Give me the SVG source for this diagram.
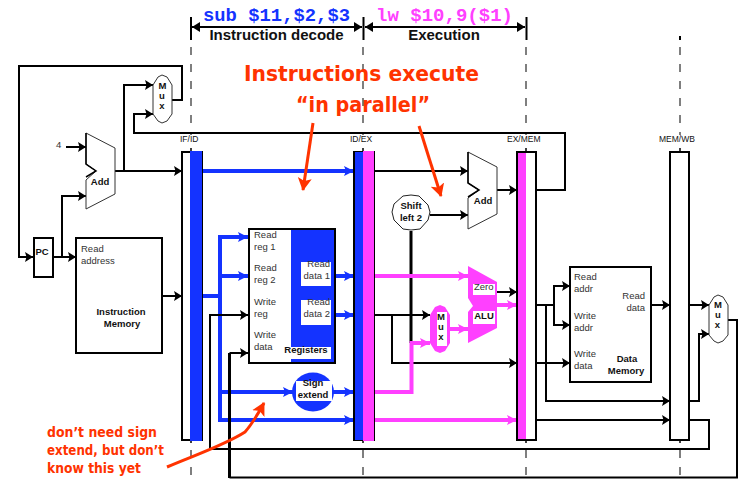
<svg xmlns="http://www.w3.org/2000/svg" width="740" height="482" viewBox="0 0 740 482">
<style>
text{font-family:"Liberation Sans",Arial,sans-serif;fill:#333}
.s{font-size:9.500px}
.m{font-size:9.500px;font-weight:bold;fill:#111;text-anchor:middle}
.h{font-size:15px;font-weight:bold;fill:#111;text-anchor:middle}
.l{font-size:8.500px;fill:#111}
.c{font-family:"Liberation Mono",monospace;font-size:19px;font-weight:bold}
.r{font-family:"DejaVu Sans",sans-serif;font-weight:bold;fill:#ff3300}
.k{fill:none;stroke:#000;stroke-width:2}
.t{fill:none;stroke:#000;stroke-width:3}
.bl{fill:none;stroke:#1433ff;stroke-width:4}
.mg{fill:none;stroke:#ff40ff;stroke-width:4}
.d{fill:none;stroke:#555;stroke-width:1.500;stroke-dasharray:8 9}
.red{fill:none;stroke:#ff3300;stroke-width:3}
.o{fill:#fff;stroke:#333;stroke-width:1}
.box{fill:#fff;stroke:#000;stroke-width:2}
.ka{marker-end:url(#ak)}
.ba{marker-end:url(#ab)}
.ma{marker-end:url(#am)}
</style>
<defs>
<marker id="ak" markerUnits="userSpaceOnUse" markerWidth="9" markerHeight="10" refX="8" refY="5" orient="auto"><path d="M0 0L8 5L0 10L1.500 5Z" fill="#000"/></marker>
<marker id="ab" markerUnits="userSpaceOnUse" markerWidth="11" markerHeight="10" refX="10" refY="5" orient="auto"><path d="M0 0L10 5L0 10L2 5Z" fill="#1433ff"/></marker>
<marker id="am" markerUnits="userSpaceOnUse" markerWidth="11" markerHeight="10" refX="10" refY="5" orient="auto"><path d="M0 0L10 5L0 10L2 5Z" fill="#ff40ff"/></marker>
<marker id="hk" markerUnits="userSpaceOnUse" markerWidth="9" markerHeight="10" refX="8" refY="5" orient="auto-start-reverse"><path d="M0 0L8 5L0 10Z" fill="#000"/></marker>
<marker id="ar" markerUnits="userSpaceOnUse" markerWidth="15" markerHeight="15" refX="12" refY="7" orient="auto"><path d="M0 0L13 7L0 14L3 7Z" fill="#ff3300"/></marker>
</defs>

<g id="guides">
<path class="d" d="M191 47V135M191 450V482M363 47V135M363 450V482M526 47V135M526 450V482M680 47V135M680 450V482"/>
<path d="M191 17V40M363.500 17V40M526.500 17V40M680 36V40" fill="none" stroke="#000" stroke-width="2"/>
<path d="M191 148V152M363 148V152M526 148V152M680 148V152M191 440V443M363 440V443M526 440V443M680 440V443" fill="none" stroke="#000" stroke-width="1.500"/>
<path d="M192 27H362" stroke="#000" stroke-width="2" marker-start="url(#hk)" marker-end="url(#hk)"/>
<path d="M365 27H525" stroke="#000" stroke-width="2" marker-start="url(#hk)" marker-end="url(#hk)"/>
</g>

<g id="headings">
<text class="c" x="203" y="21" style="fill:#1433ff" textLength="147" lengthAdjust="spacingAndGlyphs">sub $11,$2,$3</text>
<text class="c" x="376" y="21" style="fill:#ff40ff" textLength="137" lengthAdjust="spacingAndGlyphs">lw $10,9($1)</text>
<text class="h" x="276.500" y="40">Instruction decode</text>
<text class="h" x="444" y="40">Execution</text>
<text class="r" x="244" y="81" font-size="21" textLength="235" lengthAdjust="spacingAndGlyphs">Instructions execute</text>
<text class="r" x="296" y="112" font-size="21" textLength="134" lengthAdjust="spacingAndGlyphs">“in parallel”</text>
<text class="r" x="47" y="437" font-size="13.500" textLength="110" lengthAdjust="spacingAndGlyphs">don’t need sign</text>
<text class="r" x="47" y="455" font-size="13.500" textLength="117" lengthAdjust="spacingAndGlyphs">extend, but don’t</text>
<text class="r" x="47" y="473" font-size="13.500" textLength="94" lengthAdjust="spacingAndGlyphs">know this yet</text>
</g>

<g id="connectors">
<path class="k ka" d="M172 100H182V66H19V257H33"/>
<path class="k ka" d="M115 171H182"/>
<path class="k ka" d="M124 171V85H153"/>
<path class="k ka" d="M536 190H565V133H134V114H153"/>
<path class="k ka" d="M66 147H86"/>
<path class="k ka" d="M53 257H76"/>
<path class="k ka" d="M62 257V196H86"/>
<path class="k ka" d="M162 296H182"/>
<path class="bl ba" d="M202 171H354"/>
<path class="bl" d="M202 296H220"/>
<path class="bl ba" d="M220 296V237H248"/>
<path class="bl ba" d="M220 276H248"/>
<path class="bl ba" d="M220 296V420H354"/>
<path class="bl ba" d="M220 392H293"/>
<path class="bl ba" d="M335 276H354"/>
<path class="bl ba" d="M335 315H354"/>
<path class="bl ba" d="M333 392H354"/>
<path class="k ka" d="M689 420H709V449H210V315H248"/>
<path class="t" d="M229.500 478V353"/>
<path class="k ka" d="M229.500 353H248"/>
<path class="k" d="M229.500 477.500H737V320H728"/>
<path class="k ka" d="M374 171H468"/>
<path class="k ka" d="M430 215H468"/>
<path class="k ka" d="M497 190H517"/>
<path class="t" d="M411 231V343"/>
<path class="mg ma" d="M374 276H468"/>
<path class="k ka" d="M374 315H430"/>
<path class="k ka" d="M392 315V363H517"/>
<path class="mg ma" d="M374 392H411.500V343H430"/>
<path class="mg ma" d="M450 329H468"/>
<path class="k ka" d="M497 292H517"/>
<path class="mg ma" d="M497 305H517"/>
<path class="mg ma" d="M374 420H517"/>
<path class="k ka" d="M546 305V401H670"/>
<path class="k" d="M536 305H554"/>
<path class="k ka" d="M554 305V286H570"/>
<path class="k ka" d="M554 305V325H570"/>
<path class="k ka" d="M536 363H570"/>
<path class="k ka" d="M536 420H670"/>
<path class="k ka" d="M651 305H670"/>
<path class="k ka" d="M689 305H709"/>
<path class="k ka" d="M689 401H699V334H709"/>
<path class="red" d="M313 123L303 190" marker-end="url(#ar)"/>
<path class="red" d="M419 126L441 196" marker-end="url(#ar)"/>
<path class="red" d="M167 467C195 455 225 445 245 432C252 424 258 414 264 403" marker-end="url(#ar)"/>
</g>

<g id="if-id">
<rect class="box" x="182" y="152" width="20" height="288"/>
<rect x="190" y="151" width="12" height="290" fill="#1433ff"/>
<text class="l" x="180" y="142">IF/ID</text>
</g>
<g id="id-ex">
<rect class="box" x="354" y="152" width="20" height="288"/>
<rect x="355" y="152" width="8" height="288" fill="#1433ff"/>
<rect x="363" y="151" width="11" height="290" fill="#ff40ff"/>
<text class="l" x="350" y="142">ID/EX</text>
</g>
<g id="ex-mem">
<rect class="box" x="517" y="152" width="19" height="288"/>
<rect x="518" y="153" width="8" height="286" fill="#ff40ff"/>
<text class="l" x="507" y="142">EX/MEM</text>
</g>
<g id="mem-wb">
<rect class="box" x="670" y="152" width="19" height="288"/>
<text class="l" x="659" y="142">MEM/WB</text>
</g>

<g id="mux-pc">
<path class="o" d="M153 85L158 77L162 75L167 77L172 85V114L167 121L162 123L158 121L153 114Z"/>
<text class="m" x="162.500" y="89">M</text><text class="m" x="162" y="99">u</text><text class="m" x="162" y="109">x</text>
</g>
<g id="add-pc">
<path class="o" d="M86 133L115 148V194L86 209V180L96 171L86 164Z"/>
<path d="M86 133V164L96 171L86 177" fill="none" stroke="#000" stroke-width="1.500"/>
<text class="m" x="100" y="185">Add</text>
</g>
<g id="four"><text class="s" x="56" y="148">4</text></g>
<g id="pc">
<rect class="box" x="34" y="238" width="19" height="39"/>
<text class="m" x="42" y="255">PC</text>
</g>
<g id="instruction-memory">
<rect class="box" x="76" y="238" width="86" height="115"/>
<text class="s" x="81" y="252">Read</text><text class="s" x="81" y="264">address</text>
<text class="m" x="121" y="315">Instruction</text><text class="m" x="122" y="327">Memory</text>
</g>
<g id="registers">
<rect class="box" x="249" y="229" width="86" height="134"/>
<rect x="291" y="230" width="43" height="132" fill="#1433ff"/>
<rect x="301" y="262" width="30" height="24" fill="#fff"/>
<rect x="301" y="300" width="30" height="25" fill="#fff"/>
<rect x="285" y="347" width="46" height="12" fill="#fff"/>
<text class="s" x="254" y="238">Read</text><text class="s" x="254" y="250">reg 1</text>
<text class="s" x="254" y="271">Read</text><text class="s" x="254" y="283">reg 2</text>
<text class="s" x="254" y="305">Write</text><text class="s" x="254" y="317">reg</text>
<text class="s" x="254" y="338">Write</text><text class="s" x="254" y="350">data</text>
<text class="s" x="330" y="267" text-anchor="end">Read</text><text class="s" x="330" y="279" text-anchor="end">data 1</text>
<text class="s" x="330" y="305" text-anchor="end">Read</text><text class="s" x="330" y="317" text-anchor="end">data 2</text>
<text class="m" x="306" y="353">Registers</text>
</g>
<g id="sign-extend">
<ellipse cx="313" cy="392" rx="21" ry="19.500" fill="#1433ff"/>
<rect x="296" y="381" width="36" height="20" fill="#fff"/>
<text class="m" x="313" y="386">Sign</text><text class="m" x="313" y="398">extend</text>
</g>
<g id="shift-left">
<path d="M403 196L411 195L419 196L428 205L430 212L428 220L420 229L411 230L403 229L394 220L392 212L394 204Z" fill="#fff" stroke="#222" stroke-width="1"/>
<text class="m" x="411" y="209">Shift</text><text class="m" x="411" y="221">left 2</text>
</g>
<g id="add-branch">
<path class="o" d="M468 152L497 167V214L468 229V198L479 190L468 183Z"/>
<path d="M468 152V183L479 190L468 197" fill="none" stroke="#000" stroke-width="1.500"/>
<text class="m" x="483" y="204">Add</text>
</g>
<g id="mux-ex">
<path d="M430 315L435 307L440 305L445 307L450 315V343L445 351L440 353L435 351L430 343Z" fill="#ff40ff"/>
<rect x="437" y="312" width="10" height="34" fill="#fff"/>
<text class="m" x="441" y="320">M</text><text class="m" x="441" y="330">u</text><text class="m" x="441" y="340">x</text>
</g>
<g id="alu">
<path d="M468 266L497 282V328L468 343V312L473 306L468 298Z" fill="#ff40ff"/>
<rect x="473" y="284" width="22" height="11" fill="#fff"/>
<rect x="473" y="311" width="22" height="13" fill="#fff"/>
<text class="s" x="474" y="290">Zero</text>
<text class="m" x="484" y="319">ALU</text>
</g>
<g id="data-memory">
<rect class="box" x="570" y="267" width="81" height="115"/>
<text class="s" x="574" y="280">Read</text><text class="s" x="574" y="292">addr</text>
<text class="s" x="574" y="319">Write</text><text class="s" x="574" y="331">addr</text>
<text class="s" x="574" y="357">Write</text><text class="s" x="574" y="369">data</text>
<text class="s" x="645" y="299" text-anchor="end">Read</text><text class="s" x="645" y="311" text-anchor="end">data</text>
<text class="m" x="627" y="362">Data</text><text class="m" x="626" y="374">Memory</text>
</g>
<g id="mux-wb">
<path class="o" d="M709 305L714 297L718 295L723 297L728 305V335L723 341L718 343L714 341L709 335Z"/>
<text class="m" x="718" y="308">M</text><text class="m" x="718" y="318">u</text><text class="m" x="717.500" y="328">x</text>
</g>
</svg>
